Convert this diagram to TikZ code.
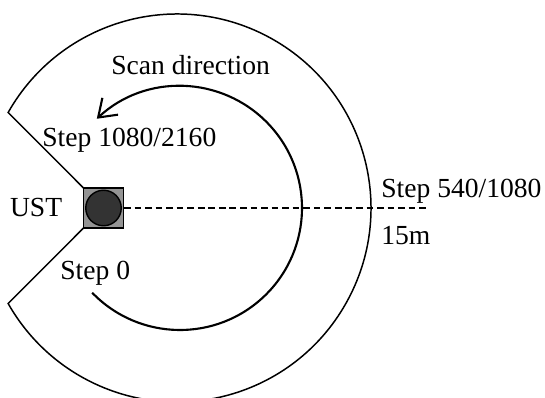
\documentclass[tikz,border=0pt]{standalone}
\usepackage{fontspec}
\setmainfont{Liberation Serif}
\usetikzlibrary{positioning}
\usetikzlibrary{arrows.meta}
\usetikzlibrary{calc}

\begin{document}
\begin{tikzpicture}[
  lbl/.style={inner sep=0pt, font=\fontsize{15.7}{18}\selectfont},
  sensor/.style={draw, line width=0.6pt, fill=black!42, minimum size=0.8cm, inner sep=0pt},
  lens/.style={circle, draw, line width=0.8pt, fill=black!80, minimum size=0.71cm, inner sep=0pt},
  scan/.style={line width=1.2pt, -{Straight Barb[length=3.3mm,width=4.6mm]}}
]
\useasboundingbox (0,0) rectangle (10.9,7.96);
\coordinate (o) at (3.54,3.80);
\coordinate (c) at (3.60,3.80);
\coordinate (u) at (2.07,3.80);
\coordinate (rim) at (8.54,3.80);
\draw[line width=0.85pt] (u) -- ($(o)+(150.5:3.88)$) arc[start angle=150.5, end angle=-150.5, radius=3.88] -- cycle;
\draw[scan] ($(c)+(-136:2.44)$) arc[start angle=-136, end angle=133, radius=2.44];
\node[sensor] (ust) at (u) {};
\node[lens] (dot) at (ust) {};
\draw[line width=1pt, dash pattern=on 3.8pt off 2.2pt] (ust.east) -- (rim);
\node[lbl, anchor=base west] (scanlbl) at (2.22,6.46) {Scan direction};
\node[lbl, anchor=base west] (top) at (0.84,5.02) {Step 1080/2160};
\node[lbl, anchor=base west] (start) at (1.20,2.36) {Step 0};
\node[lbl, anchor=base west] (half) at (7.62,4.00) {Step 540/1080};
\node[lbl, anchor=base west] (range) at (7.62,3.06) {15m};
\node[lbl, left=0.41cm of ust] (name) {UST};
\end{tikzpicture}
\end{document}
